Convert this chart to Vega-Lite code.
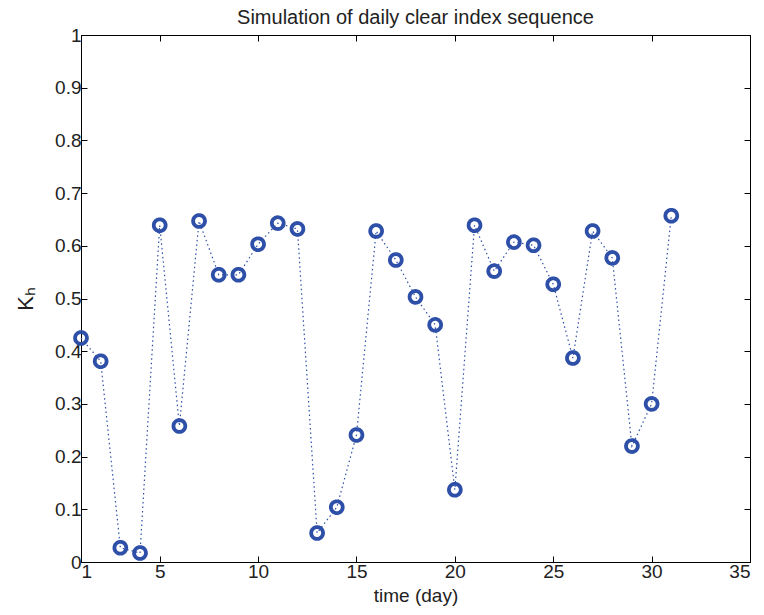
{
  "$schema": "https://vega.github.io/schema/vega-lite/v6.json",
  "width": 669,
  "height": 527,
  "autosize": "none",
  "padding": {"left": 81, "top": 35, "right": 14, "bottom": 53},
  "background": "white",
  "config": {
    "view": {"stroke": "black", "strokeWidth": 1},
    "font": "Liberation Sans",
    "axis": {
      "grid": false,
      "domainColor": "black",
      "tickColor": "black",
      "tickSize": -6,
      "labelColor": "#222",
      "labelFontSize": 19,
      "titleFontSize": 19,
      "titleFontWeight": "normal",
      "titleColor": "#222",
      "labelPadding": 6,
      "labelFont": "Liberation Sans",
      "titleFont": "Liberation Sans"
    }
  },
  "title": {"text": "Simulation of daily clear index sequence", "fontSize": 20, "fontWeight": "normal", "color": "#222", "offset": -2, "font": "Liberation Sans"},
  "data": {"values": [
    {"day": 1, "k": 0.425}, {"day": 2, "k": 0.381}, {"day": 3, "k": 0.027}, {"day": 4, "k": 0.017},
    {"day": 5, "k": 0.639}, {"day": 6, "k": 0.258}, {"day": 7, "k": 0.647}, {"day": 8, "k": 0.545},
    {"day": 9, "k": 0.545}, {"day": 10, "k": 0.603}, {"day": 11, "k": 0.643}, {"day": 12, "k": 0.632},
    {"day": 13, "k": 0.055}, {"day": 14, "k": 0.104}, {"day": 15, "k": 0.241}, {"day": 16, "k": 0.628},
    {"day": 17, "k": 0.573}, {"day": 18, "k": 0.503}, {"day": 19, "k": 0.450}, {"day": 20, "k": 0.137},
    {"day": 21, "k": 0.639}, {"day": 22, "k": 0.552}, {"day": 23, "k": 0.607}, {"day": 24, "k": 0.601},
    {"day": 25, "k": 0.527}, {"day": 26, "k": 0.387}, {"day": 27, "k": 0.628}, {"day": 28, "k": 0.577},
    {"day": 29, "k": 0.220}, {"day": 30, "k": 0.300}, {"day": 31, "k": 0.657}
  ]},
  "layer": [
    {
      "mark": {"type": "line", "color": "#2E4FA8", "strokeWidth": 1.2, "strokeDash": [1.5, 3],
        "point": {"shape": "circle", "filled": false, "stroke": "#2E4FA8", "fill": null, "strokeWidth": 3.8, "size": 140, "opacity": 1, "strokeDash": [1, 0]}},
      "encoding": {
        "x": {"field": "day", "type": "quantitative", "scale": {"domain": [1, 35], "nice": false, "zero": false},
          "axis": {"orient": "bottom", "title": "time (day)", "values": [1, 5, 10, 15, 20, 25, 30, 35], "titlePadding": 5}},
        "y": {"field": "k", "type": "quantitative", "scale": {"domain": [0, 1], "nice": false},
          "axis": {"orient": "left", "title": "Kₕ", "titleFontSize": 22, "values": [0, 0.1, 0.2, 0.3, 0.4, 0.5, 0.6, 0.7, 0.8, 0.9, 1], "labelExpr": "'' + datum.value", "titlePadding": 17}}
      }
    },
    {
      "mark": {"type": "point", "opacity": 0},
      "encoding": {
        "x": {"field": "day", "type": "quantitative",
          "axis": {"orient": "top", "title": null, "labels": false, "values": [1, 5, 10, 15, 20, 25, 30, 35]}},
        "y": {"field": "k", "type": "quantitative",
          "axis": {"orient": "right", "title": null, "labels": false, "values": [0, 0.1, 0.2, 0.3, 0.4, 0.5, 0.6, 0.7, 0.8, 0.9, 1]}}
      }
    }
  ],
  "resolve": {"axis": {"x": "independent", "y": "independent"}}
}
